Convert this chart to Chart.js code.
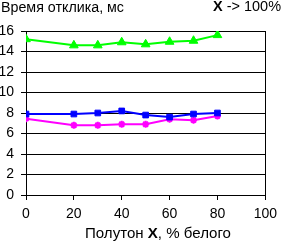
<!DOCTYPE html>
<html>
<head>
<meta charset="utf-8">
<script src="https://cdn.jsdelivr.net/npm/chart.js@4/dist/chart.umd.min.js"></script>
<style>
html,body{margin:0;padding:0;background:#fff;}
canvas{display:block;}
</style>
</head>
<body>
<canvas id="c" width="283" height="241"></canvas>
<script>
const xValues = [0, 20, 30, 40, 50, 60, 70, 80];
const seriesGreen = [15.2, 14.6, 14.6, 14.9, 14.7, 14.95, 15.05, 15.6];
const seriesBlue = [7.9, 7.9, 8.0, 8.2, 7.8, 7.6, 7.9, 8.0];
const seriesMagenta = [7.45, 6.8, 6.8, 6.9, 6.9, 7.4, 7.3, 7.7];
const yTitle = 'Время отклика, мс';
const cornerNote = ['X', ' -> 100%'];
const xTitleParts = ['Полутон ', 'X', ', % белого'];

const toPts = arr => arr.map((v, i) => ({x: xValues[i], y: v}));
const FONT = '"Liberation Sans", Arial, sans-serif';

// draw text parts (first flag = bold) stretched to span [x0, x1]
function drawSpan(ctx, parts, bolds, x0, x1, baseline, size) {
  const fonts = bolds.map(b => (b ? 'bold ' : '') + size + 'px ' + FONT);
  let total = 0;
  const widths = parts.map((t, i) => { ctx.font = fonts[i]; const w = ctx.measureText(t).width; total += w; return w; });
  const sx = (x1 - x0) / total;
  ctx.save();
  ctx.translate(x0, baseline);
  ctx.scale(sx, 1);
  let bx = 0;
  parts.forEach((t, i) => { ctx.font = fonts[i]; ctx.fillText(t, bx, 0); bx += widths[i]; });
  ctx.restore();
}

const textPlugin = {
  id: 'texts',
  afterDraw(chart) {
    const ctx = chart.ctx;
    ctx.save();
    ctx.fillStyle = '#000';
    ctx.textBaseline = 'alphabetic';
    ctx.textAlign = 'left';
    drawSpan(ctx, [yTitle], [false], 1, 124, 12, 14);
    drawSpan(ctx, cornerNote, [true, false], 213, 281, 11, 14);
    drawSpan(ctx, xTitleParts, [false, true, false], 85, 231, 238, 14);
    ctx.restore();
  }
};

new Chart(document.getElementById('c'), {
  type: 'line',
  data: {
    datasets: [
      {data: toPts(seriesGreen), borderColor: '#00ff00', backgroundColor: '#00ff00', borderWidth: 2,
       pointStyle: 'triangle', pointRadius: 5, pointBorderWidth: 1, tension: 0},
      {data: toPts(seriesBlue), borderColor: '#0000ff', backgroundColor: '#0000ff', borderWidth: 2,
       pointStyle: 'rect', pointRadius: 4, pointBorderWidth: 1, tension: 0},
      {data: toPts(seriesMagenta), borderColor: '#ff00ff', backgroundColor: '#ff00ff', borderWidth: 2,
       pointStyle: 'star', pointRadius: 3.5, pointBorderWidth: 2, tension: 0}
    ]
  },
  options: {
    responsive: false,
    animation: false,
    events: [],
    layout: {padding: {top: 31, right: 11, left: 0, bottom: 0}},
    plugins: {legend: {display: false}, tooltip: {enabled: false}, title: {display: false}},
    scales: {
      x: {
        type: 'linear', min: 0, max: 100,
        afterFit(s) { s.height = 46; },
        ticks: {stepSize: 20, color: '#000', font: {family: FONT, size: 14}, padding: 6, maxRotation: 0},
        grid: {
          color: c => (c.tick && c.tick.value === 100 ? '#000' : 'rgba(0,0,0,0)'),
          tickColor: '#000', tickLength: 5, lineWidth: 1, drawOnChartArea: true
        },
        border: {color: '#000', width: 1}
      },
      y: {
        min: 0, max: 16,
        afterFit(s) { s.width = 26; },
        ticks: {stepSize: 2, color: '#000', font: {family: FONT, size: 14}, padding: 7},
        grid: {color: '#000', tickColor: '#000', tickLength: 5, lineWidth: 1},
        border: {color: '#000', width: 1}
      }
    }
  },
  plugins: [textPlugin]
});
</script>
</body>
</html>
